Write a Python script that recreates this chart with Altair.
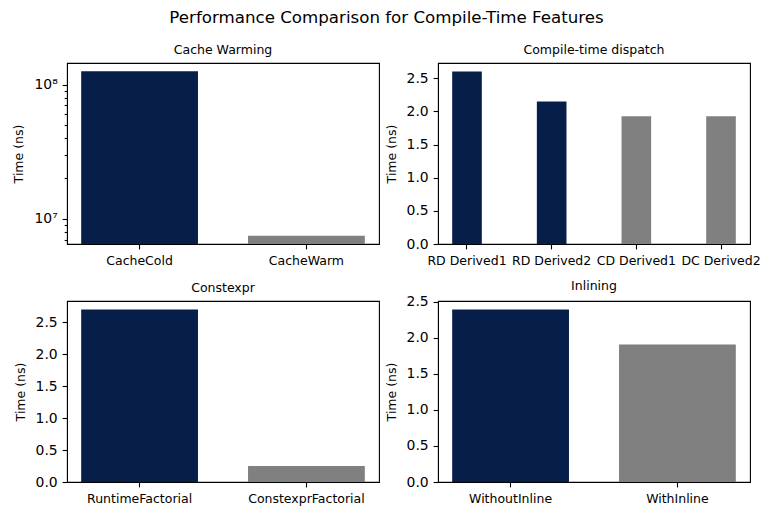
import math
import altair as alt
import pandas as pd

NAVY = "#061e48"
GREY = "#808080"
FONT = "DejaVu Sans"

# ---- data ----
cache_labels = ["CacheCold", "CacheWarm"]
cache_values = [1.26e8, 7.48e6]
cache_kind = ["runtime", "compile"]

dispatch_labels = ["RD Derived1", "RD Derived2", "CD Derived1", "DC Derived2"]
dispatch_values = [2.60, 2.15, 1.925, 1.925]
dispatch_kind = ["runtime", "runtime", "compile", "compile"]

constexpr_labels = ["RuntimeFactorial", "ConstexprFactorial"]
constexpr_values = [2.70, 0.25]
constexpr_kind = ["runtime", "compile"]

inline_labels = ["WithoutInline", "WithInline"]
inline_values = [2.39, 1.905]
inline_kind = ["runtime", "compile"]

linear_ticks = [0.0, 0.5, 1.0, 1.5, 2.0, 2.5]
log_ticks = [7e6, 8e6, 9e6, 1e7, 2e7, 3e7, 4e7, 5e7, 6e7, 7e7, 8e7, 9e7, 1e8]

W, H = 312, 181

color = alt.Color(
    "kind:N",
    scale=alt.Scale(domain=["runtime", "compile"], range=[NAVY, GREY]),
    legend=None,
)


def frame(labels, values, kind):
    return pd.DataFrame({"name": labels, "value": values, "kind": kind})


def xenc(labels, bar_width):
    span = (len(labels) - 1) + bar_width
    outer = 0.05 * span
    return alt.X(
        "name:N",
        sort=labels,
        scale=alt.Scale(paddingInner=1 - bar_width, paddingOuter=outer),
        axis=alt.Axis(
            title=None,
            labelAngle=0,
            labelFontSize=12.5,
            labelPadding=5.5,
            tickSize=4.9,
            tickWidth=1.1,
            tickColor="black",
            domainColor="black",
            labelColor="black",
        ),
    )


def ptitle(t, offset=7):
    return alt.TitleParams(
        t, fontSize=12.5, fontWeight="normal", font=FONT, color="black",
        offset=offset, frame="group",
    )


yaxis_common = dict(
    title="Time (ns)",
    titleFontSize=12.5,
    titleFontWeight="normal",
    titleColor="black",
    titlePadding=8,
    labelFontSize=13.9,
    labelColor="black",
    labelPadding=4.9,
    tickWidth=1.1,
    tickColor="black",
    domainColor="black",
    grid=False,
)


def linear_panel(title, labels, values, kind, bar_width, title_offset=7):
    df = frame(labels, values, kind)
    top = max(values) * 1.05
    return (
        alt.Chart(df, title=ptitle(title, title_offset))
        .mark_bar()
        .encode(
            x=xenc(labels, bar_width),
            y=alt.Y(
                "value:Q",
                scale=alt.Scale(domain=[0, top], nice=False, zero=True),
                axis=alt.Axis(values=linear_ticks, format=".1f", tickSize=4.9,
                              **yaxis_common),
            ),
            color=color,
        )
        .properties(width=W, height=H)
    )


def log_panel(title, labels, values, kind, bar_width):
    df = frame(labels, values, kind)
    lmin = math.log10(min(values))
    lmax = math.log10(max(values))
    span = lmax - lmin
    lo = 10 ** (lmin - 0.05 * span)
    hi = 10 ** (lmax + 0.05 * span)
    ysc = alt.Scale(type="log", domain=[lo, hi], clamp=True, nice=False)
    major = "(datum.value == 10000000 || datum.value == 100000000)"
    return (
        alt.Chart(df, title=ptitle(title))
        .mark_bar()
        .encode(
            x=xenc(labels, bar_width),
            y=alt.Y(
                "value:Q",
                scale=ysc,
                axis=alt.Axis(
                    values=log_ticks,
                    labelExpr="datum.value == 100000000 ? '10⁸' : "
                              "(datum.value == 10000000 ? '10⁷' : '')",
                    tickSize={"condition": {"test": major, "value": 4.9}, "value": 2.8},
                    **yaxis_common,
                ),
            ),
            y2=alt.datum(lo),
            color=color,
        )
        .properties(width=W, height=H)
    )


p1 = log_panel("Cache Warming", cache_labels, cache_values, cache_kind, 0.7)
p2 = linear_panel("Compile-time dispatch", dispatch_labels, dispatch_values, dispatch_kind, 0.35)
p3 = linear_panel("Constexpr", constexpr_labels, constexpr_values, constexpr_kind, 0.7)
# the 2.5 tick label pokes above this panel's frame, so its title sits closer
p4 = linear_panel("Inlining", inline_labels, inline_values, inline_kind, 0.7, title_offset=2)

chart = (
    alt.concat(p1, p2, p3, p4, columns=2, spacing={"row": 11, "column": 4})
    .properties(
        title=alt.TitleParams(
            "Performance Comparison for Compile-Time Features",
            fontSize=16.67,
            fontWeight="normal",
            font=FONT,
            color="black",
            anchor="middle",
            offset=16,
        ),
        padding={"left": 4, "top": 2, "right": 0, "bottom": 0},
    )
    .configure(font=FONT)
    .configure_view(stroke="black", strokeWidth=1.1)
    .configure_axis(labelFont=FONT, titleFont=FONT)
)

chart.save("out.html", embed_options={"renderer": "svg", "actions": False})
